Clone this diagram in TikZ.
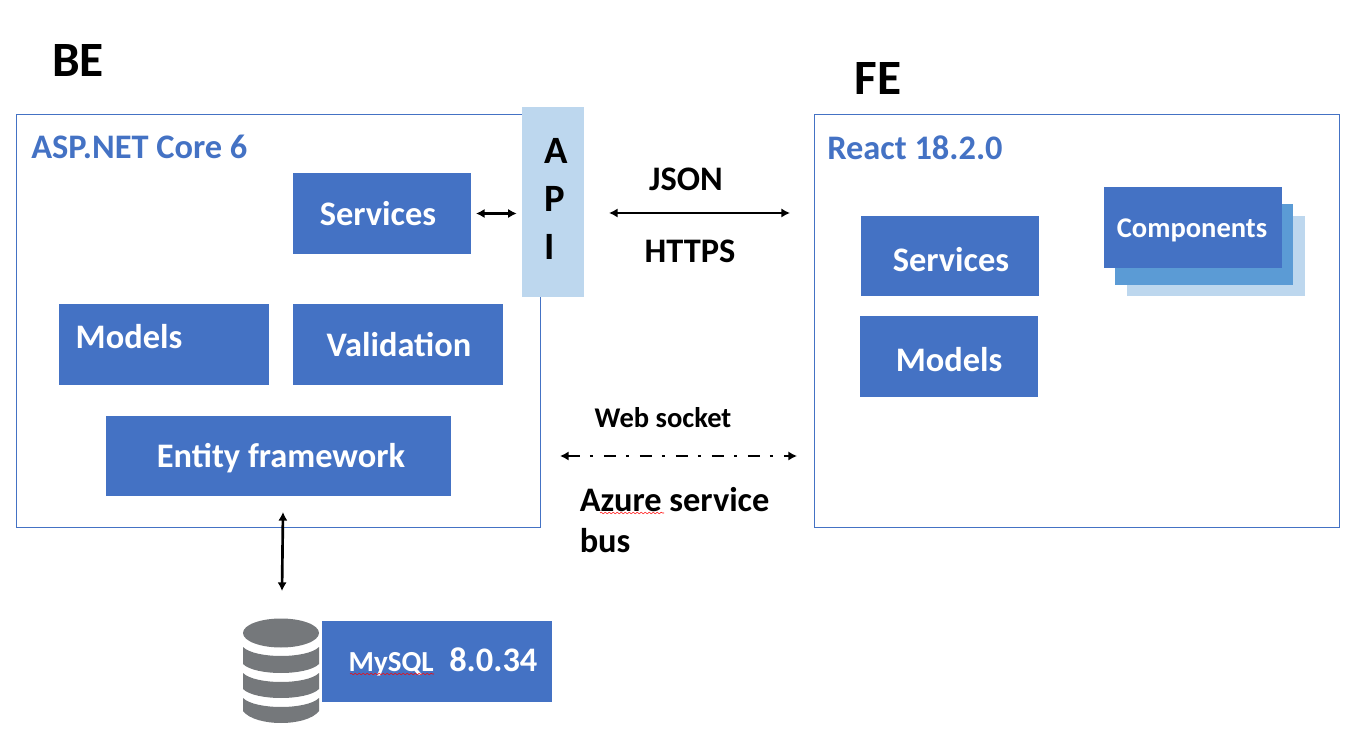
\documentclass[tikz,border=0pt]{standalone}
\usepackage{fontspec}
\setmainfont{Carlito}
\usetikzlibrary{arrows.meta,decorations.pathmorphing}
\definecolor{boxBlue}{HTML}{4472C4}
\definecolor{midBlue}{HTML}{5B9BD5}
\definecolor{paleBlue}{HTML}{BDD7EE}
\definecolor{dbGray}{HTML}{75787B}
\newcommand{\boxfont}{\fontsize{25.8}{25.8}\bfseries\selectfont}
\tikzset{
	blueBox/.style={shape=rectangle, fill=boxBlue, inner sep=0pt, outer sep=0pt},
	frameBox/.style={shape=rectangle, draw=boxBlue, line width=0.75pt, inner sep=0pt, outer sep=0pt},
	boxText/.style={anchor=center, align=center, text=white, inner sep=0pt, font=\boxfont},
	blackText/.style={align=left, text=black, inner sep=0pt},
	titleText/.style={anchor=west, text=boxBlue, inner sep=0pt, font=\boxfont},
	link/.style={line width=2pt, {Latex[length=6.5pt,width=7pt]}-{Latex[length=6.5pt,width=7pt]}},
	squiggle/.style={red, line width=0.4pt, decorate, decoration={snake, amplitude=0.6pt, segment length=3pt}}
}
\begin{document}
\begin{tikzpicture}[x=0.75pt, y=-0.75pt]
	\path[use as bounding box] (0,0) rectangle (1356,737);
	% Frames and headings:
	\node[frameBox, minimum width=524*0.75pt, minimum height=413*0.75pt] (beFrame) at (278,321){};
	\node[frameBox, minimum width=525*0.75pt, minimum height=413*0.75pt] (feFrame) at (1076.5,321){};
	\node[blackText, font=\fontsize{37}{37}\bfseries\selectfont] (beTitle) at (78,61){BE};
	\node[blackText, font=\fontsize{37}{37}\bfseries\selectfont] (feTitle) at (878,79){FE};
	\node[titleText] (aspTitle) at (31,147){ASP.NET Core 6};
	\node[titleText] (reactTitle) at (827,148){React 18.2.0};
	% Backend boxes:
	\node[blueBox, minimum width=178*0.75pt, minimum height=81*0.75pt] (beServices) at (382,213.5){} node[boxText] (beServicesText) at (378,214){Services};
	\node[blueBox, minimum width=210*0.75pt, minimum height=81*0.75pt] (beModels) at (164,344.5){} node[boxText] (beModelsText) at (129,337){Models};
	\node[blueBox, minimum width=210*0.75pt, minimum height=81*0.75pt] (validation) at (398,344.5){} node[boxText] (validationText) at (399,345){Validation};
	\node[blueBox, minimum width=345*0.75pt, minimum height=80*0.75pt] (entity) at (278.5,456){} node[boxText] (entityText) at (281,458){Entity framework};
	\node[blueBox, minimum width=230*0.75pt, minimum height=81*0.75pt] (mysql) at (437,661.5){} node[boxText] (mysqlText) at (443,662){{\fontsize{21.8}{21.8}\bfseries\selectfont MySQL}~~8.0.34};
	% API block:
	\node[shape=rectangle, fill=paleBlue, inner sep=0pt, minimum width=62*0.75pt, minimum height=190*0.75pt] (api) at (553,202){};
	\node[blackText, anchor=west, font=\fontsize{29}{36}\bfseries\selectfont] (apiText) at (544,199){A\\P\\I};
	% Frontend boxes:
	\node[blueBox, minimum width=178*0.75pt, minimum height=80*0.75pt] (feServices) at (950,256){} node[boxText] (feServicesText) at (951,260){Services};
	\node[blueBox, minimum width=178*0.75pt, minimum height=81*0.75pt] (feModels) at (949,356.5){} node[boxText] (feModelsText) at (949,360){Models};
	\node[shape=rectangle, fill=paleBlue, inner sep=0pt, minimum width=178*0.75pt, minimum height=80*0.75pt] (compBack) at (1216,256){};
	\node[shape=rectangle, fill=midBlue, inner sep=0pt, minimum width=178*0.75pt, minimum height=81*0.75pt] (compMid) at (1204,244.5){};
	\node[blueBox, minimum width=178*0.75pt, minimum height=81*0.75pt] (compFront) at (1193,227.5){} node[boxText, font=\fontsize{21.4}{21.4}\bfseries\selectfont] (compText) at (1192,230){Components};
	% Wire labels:
	\node[blackText, font=\fontsize{25.8}{25.8}\bfseries\selectfont] (jsonText) at (686,179){JSON};
	\node[blackText, font=\fontsize{25.8}{25.8}\bfseries\selectfont] (httpsText) at (690,251){HTTPS};
	\node[blackText, font=\fontsize{21.4}{21.4}\bfseries\selectfont] (socketText) at (663,418){Web socket};
	\node[blackText, anchor=west, font=\fontsize{25.8}{30.75}\bfseries\selectfont] (busText) at (579.5,520){Azure service\\bus};
	% Database icon:
	\fill[dbGray] (281,633) ellipse [x radius=38, y radius=14.5];
	\fill[dbGray] (243,647) .. controls (255,659) and (307,659) .. (319,647) -- (319,664) .. controls (307,676) and (255,676) .. (243,664) -- cycle;
	\fill[dbGray] (243,673) .. controls (255,685) and (307,685) .. (319,673) -- (319,689) .. controls (307,701) and (255,701) .. (243,689) -- cycle;
	\fill[dbGray] (243,698) .. controls (255,710) and (307,710) .. (319,698) -- (319,711) .. controls (307,727) and (255,727) .. (243,711) -- cycle;
	% Wires:
	\coordinate (jsonLeft) at (609,213);
	\coordinate (jsonRight) at (790,213);
	\coordinate (socketLeft) at (560,456);
	\coordinate (socketRight) at (797,456);
	\coordinate (dbTop) at (282,591);
	\coordinate (entityBelow) at (283,512);
	\draw[link, shorten >=5*0.75pt, shorten <=5*0.75pt] (beServices.east) -- (beServices.east -| api.west);
	\draw[link] (jsonLeft) -- (jsonRight);
	\draw[link, dash pattern=on 9pt off 7.5pt on 2.5pt off 8pt] (socketLeft) -- (socketRight);
	\draw[link] (entityBelow) -- (dbTop);
	% Spell check marks:
	\draw[squiggle] (350,674) -- (434,674);
	\draw[squiggle] (600,513) -- (664,513);
\end{tikzpicture}
\end{document}
